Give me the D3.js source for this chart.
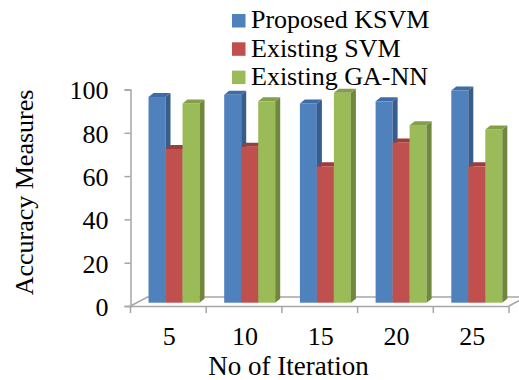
<!DOCTYPE html>
<html lang="en">

<head>
  <meta charset="utf-8">
  <title>Accuracy Measures</title>
  <script src="https://d3js.org/d3.v7.min.js"></script>
  <style>
    body { margin: 0; background: #fff; }
  </style>
</head>

<body>
  <script type="text/javascript">
  var iterations = ['5', '10', '15', '20', '25'];
  var seriesNames = ['Proposed KSVM', 'Existing SVM', 'Existing GA-NN'];
  var ksvm = [95, 96, 92, 93, 98];
  var svm = [71, 72, 63, 74, 63];
  var gann = [92, 93, 97, 82, 80];
  var yTicks = [0, 20, 40, 60, 80, 100];

  var seriesValues = [ksvm, svm, gann];
  // front, top, side shades (excel 2007 look)
  var colors = [
    {front: '#4f81bd', top: '#3e6ca6', side: '#375d8c'},
    {front: '#c0504d', top: '#9e3c3a', side: '#8c3836'},
    {front: '#9bbb59', top: '#839f48', side: '#6f883e'}
  ];

  var serif = 'Liberation Serif, Times New Roman, serif';
  var w = 519, h = 380;
  var plotL = 130.5, plotR = 509, plotB = 306, plotT = 89.5;
  var floorDx = 17, floorDy = 9;   // depth of the floor
  var barDx = 5.5, barDy = 3.3;    // bars sit a bit back on the floor
  var capDx = 5, capDy = 4;        // bar thickness

  var svg = d3.select('body').append('svg')
      .attr('width', w)
      .attr('height', h)
      .attr('font-family', serif);

  var x = d3.scaleBand()
    .domain(iterations)
    .range([plotL, plotR]);
  var x1 = d3.scaleBand()
    .domain(d3.range(seriesNames.length))
    .range([12.5, 63.5]);
  var y = d3.scaleLinear()
    .domain([0, 100])
    .range([plotB, plotT]);

  // floor
  svg.append('path')
    .attr('d', 'M' + [plotL, plotB] + 'L' + [plotL + floorDx, plotB - floorDy] +
      'L' + [plotR + floorDx, plotB - floorDy] + 'L' + [plotR, plotB])
    .style('fill', '#fff')
    .style('stroke', '#a6a6a6')
    .style('stroke-width', 1.5);

  // y axis
  var yAxis = svg.append('g')
    .attr('transform', 'translate(' + plotL + ',0)')
    .call(d3.axisLeft(y).tickValues(yTicks).tickSize(6).tickPadding(16))
    .attr('font-family', serif)
    .attr('font-size', 26);
  yAxis.selectAll('path, line').style('stroke', '#a6a6a6').style('stroke-width', 1.5);
  yAxis.selectAll('text').attr('dy', '0.36em').attr('fill', '#000');

  // x axis, labels at band centres, ticks at band edges
  var xAxis = svg.append('g')
    .attr('transform', 'translate(0,' + plotB + ')')
    .call(d3.axisBottom(x).tickSize(0).tickPadding(20.5))
    .attr('font-family', serif)
    .attr('font-size', 26);
  xAxis.select('.domain').style('stroke', '#a6a6a6').style('stroke-width', 1.5);
  xAxis.selectAll('text').attr('x', 1).attr('fill', '#000');
  var edges = iterations.map(function(d){ return x(d); }).concat([plotR]);
  svg.append('g').selectAll('line')
    .data(edges)
    .enter().append('line')
      .attr('x1', function(d){ return d; })
      .attr('x2', function(d){ return d; })
      .attr('y1', plotB)
      .attr('y2', plotB + 7)
      .style('stroke', '#a6a6a6')
      .style('stroke-width', 1.5);

  // 3d columns, drawn left to right so each bar covers its neighbour's side
  var bars = [];
  iterations.forEach(function(it, i) {
    seriesValues.forEach(function(vals, s) {
      bars.push({it: it, s: s, v: vals[i]});
    });
  });

  var bar = svg.append('g').selectAll('g')
    .data(bars)
    .enter().append('g');

  function bx(d) { return x(d.it) + x1(d.s) + barDx; }
  function by(d) { return y(d.v) - barDy; }
  var bw = x1.bandwidth();
  var b0 = y(0) - barDy;

  bar.append('rect')
    .attr('x', bx)
    .attr('y', by)
    .attr('width', bw)
    .attr('height', function(d){ return b0 - by(d); })
    .style('fill', function(d){ return colors[d.s].front; });
  bar.append('path')
    .attr('d', function(d) {
      var x0 = bx(d) + bw, y0 = by(d);
      return 'M' + [x0, y0] + 'L' + [x0 + capDx, y0 - capDy] +
        'L' + [x0 + capDx, b0 - capDy] + 'L' + [x0, b0] + 'Z';
    })
    .style('fill', function(d){ return colors[d.s].side; });
  bar.append('path')
    .attr('d', function(d) {
      var x0 = bx(d), y0 = by(d);
      return 'M' + [x0, y0] + 'L' + [x0 + capDx, y0 - capDy] +
        'L' + [x0 + bw + capDx, y0 - capDy] + 'L' + [x0 + bw, y0] + 'Z';
    })
    .style('fill', function(d){ return colors[d.s].top; });

  // axis titles
  svg.append('text')
    .attr('transform', 'translate(33,192.5) rotate(-90)')
    .attr('text-anchor', 'middle')
    .attr('font-size', 26)
    .text('Accuracy Measures');
  svg.append('text')
    .attr('x', 288.5)
    .attr('y', 374.5)
    .attr('text-anchor', 'middle')
    .attr('font-size', 27)
    .text('No of Iteration');

  // legend
  var legend = svg.append('g').selectAll('g')
    .data(seriesNames)
    .enter().append('g')
      .attr('transform', function(d, i){ return 'translate(232,' + (14 + i * 28.3) + ')'; });
  legend.append('rect')
    .attr('width', 13.5)
    .attr('height', 13.5)
    .style('fill', function(d, i){ return colors[i].front; });
  legend.append('text')
    .attr('x', 19)
    .attr('y', 14.3)
    .attr('font-size', 26)
    .text(function(d){ return d; });
  </script>
</body>

</html>
